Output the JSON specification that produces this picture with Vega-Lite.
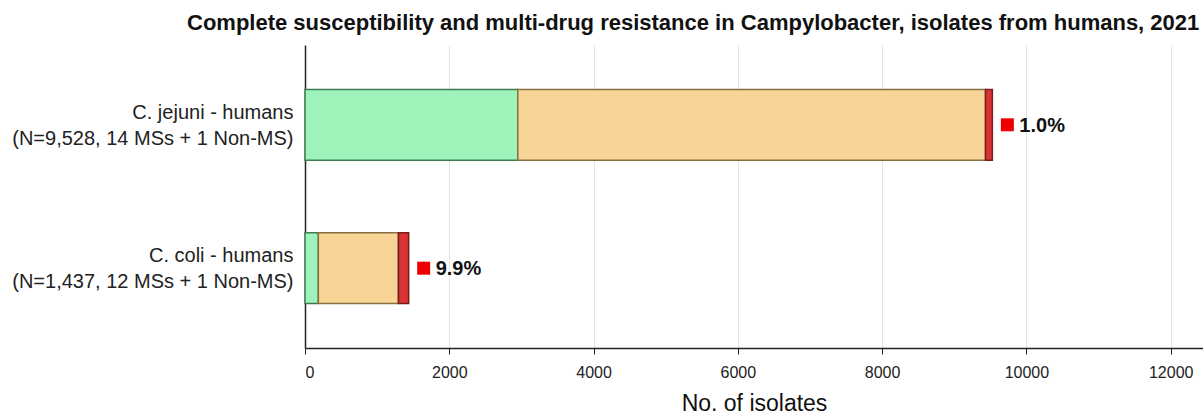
{
  "$schema": "https://vega.github.io/schema/vega-lite/v6.json",
  "autosize": {"type": "none"},
  "width": 898,
  "height": 303,
  "padding": {"left": 305, "top": 45, "right": 0, "bottom": 66},
  "background": "white",
  "config": {
    "font": "Liberation Sans",
    "view": {"stroke": null}
  },
  "title": {
    "text": "Complete susceptibility and multi-drug resistance in Campylobacter, isolates from humans, 2021",
    "anchor": "start",
    "frame": "group",
    "dx": -118,
    "fontSize": 22,
    "fontWeight": "bold",
    "font": "Liberation Sans",
    "color": "#111111",
    "offset": 10
  },
  "datasets": {
    "segments": [
      {"group": "C. jejuni - humans\n(N=9,528, 14 MSs + 1 Non-MS)", "category": "Completely susceptible", "idx": 1, "isolates": 2950},
      {"group": "C. jejuni - humans\n(N=9,528, 14 MSs + 1 Non-MS)", "category": "Resistant to 1-2 classes", "idx": 2, "isolates": 6483},
      {"group": "C. jejuni - humans\n(N=9,528, 14 MSs + 1 Non-MS)", "category": "Multi-drug resistant", "idx": 3, "isolates": 95},
      {"group": "C. coli - humans\n(N=1,437, 12 MSs + 1 Non-MS)", "category": "Completely susceptible", "idx": 1, "isolates": 185},
      {"group": "C. coli - humans\n(N=1,437, 12 MSs + 1 Non-MS)", "category": "Resistant to 1-2 classes", "idx": 2, "isolates": 1110},
      {"group": "C. coli - humans\n(N=1,437, 12 MSs + 1 Non-MS)", "category": "Multi-drug resistant", "idx": 3, "isolates": 142}
    ],
    "totals": [
      {"group": "C. jejuni - humans\n(N=9,528, 14 MSs + 1 Non-MS)", "total": 9528, "mdr": "1.0%"},
      {"group": "C. coli - humans\n(N=1,437, 12 MSs + 1 Non-MS)", "total": 1437, "mdr": "9.9%"}
    ]
  },
  "encoding": {
    "y": {
      "field": "group",
      "type": "nominal",
      "sort": ["C. jejuni - humans\n(N=9,528, 14 MSs + 1 Non-MS)", "C. coli - humans\n(N=1,437, 12 MSs + 1 Non-MS)"],
      "scale": {"paddingInner": 0.507, "paddingOuter": 0.31},
      "axis": {
        "title": null,
        "labelExpr": "split(datum.label, '\\n')",
        "labelFontSize": 20,
        "labelColor": "#222222",
        "labelLineHeight": 26,
        "labelPadding": 12,
        "labelOffset": -12,
        "labelLimit": 400,
        "ticks": false,
        "domainColor": "#222222",
        "domainWidth": 1.5
      }
    }
  },
  "layer": [
    {
      "data": {"name": "segments"},
      "mark": {"type": "bar", "strokeWidth": 1.5},
      "encoding": {
        "x": {
          "field": "isolates",
          "type": "quantitative",
          "stack": "zero",
          "scale": {"domain": [0, 12448], "nice": false, "zero": true},
          "axis": {
            "title": "No. of isolates",
            "titleFontSize": 23,
            "titleFontWeight": "normal",
            "titleColor": "#111111",
            "titlePadding": 12,
            "values": [0, 2000, 4000, 6000, 8000, 10000, 12000],
            "format": "d",
            "labelFontSize": 16,
            "labelColor": "#222222",
            "labelPadding": 10,
            "tickSize": 6,
            "tickColor": "#222222",
            "domainColor": "#222222",
            "domainWidth": 1.5,
            "grid": true,
            "gridColor": "#e3e3e3",
            "gridWidth": 1
          }
        },
        "color": {
          "field": "category",
          "type": "nominal",
          "scale": {
            "domain": ["Completely susceptible", "Resistant to 1-2 classes", "Multi-drug resistant"],
            "range": ["#9ef3bb", "#f8d596", "#d93336"]
          },
          "legend": null
        },
        "stroke": {
          "field": "category",
          "type": "nominal",
          "scale": {
            "domain": ["Completely susceptible", "Resistant to 1-2 classes", "Multi-drug resistant"],
            "range": ["#3f7a55", "#8a7041", "#7a1c1c"]
          },
          "legend": null
        },
        "order": {"field": "idx", "type": "quantitative"}
      }
    },
    {
      "data": {"name": "totals"},
      "mark": {"type": "square", "xOffset": 15, "size": 169, "filled": true, "color": "#ee0000", "opacity": 1},
      "encoding": {
        "x": {"field": "total", "type": "quantitative"}
      }
    },
    {
      "data": {"name": "totals"},
      "mark": {"type": "text", "align": "left", "baseline": "middle", "dx": 27, "dy": 1, "fontSize": 20, "fontWeight": "bold", "color": "#111111"},
      "encoding": {
        "x": {"field": "total", "type": "quantitative"},
        "text": {"field": "mdr"}
      }
    }
  ]
}
